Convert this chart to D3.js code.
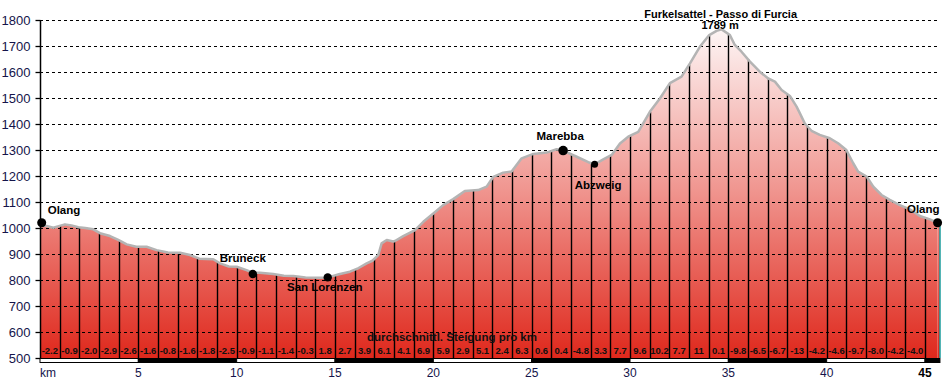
<!DOCTYPE html>
<html>
<head>
<meta charset="utf-8">
<script src="https://cdn.jsdelivr.net/npm/d3@7"></script>
<style>
  html, body { margin: 0; padding: 0; background: #fff; }
  svg { display: block; }
</style>
</head>
<body>
<svg id="chart" width="944" height="381"></svg>
<script>
// ---------- DATA ----------
const distKm = [0.00,0.34,0.68,1.00,1.27,1.60,1.95,2.30,2.71,3.05,3.56,3.98,4.41,4.90,5.42,5.93,6.50,7.12,7.63,8.10,8.81,9.15,9.60,10.00,10.50,10.82,11.18,11.86,12.40,12.88,13.50,14.23,14.63,14.74,15.20,15.76,16.20,16.61,16.90,17.20,17.37,17.63,17.96,18.05,18.47,19.07,19.49,20.00,20.50,21.01,21.60,22.28,22.71,23.05,23.55,23.98,24.49,25.08,25.76,26.27,26.60,27.29,27.88,28.20,28.64,29.07,29.49,29.91,30.42,31.01,31.52,32.03,32.62,33.05,33.55,34.03,34.40,34.66,35.08,35.33,35.67,36.10,36.60,37.03,37.37,37.71,38.13,38.47,38.64,38.89,39.23,39.65,40.16,40.58,41.00,41.35,41.60,42.03,42.37,42.79,43.21,43.72,44.23,44.74,45.25,45.64];
const elevation = [1008,1008,1001,1008,1014,1010,1003,1000,995,980,969,954,937,928,928,915,906,905,896,882,880,864,852,851,838,828,828,823,816,815,810,809,810,812,822,832,846,864,874,896,941,954,948,950,969,992,1024,1056,1088,1111,1142,1146,1159,1197,1213,1217,1268,1285,1290,1303,1298,1274,1253,1245,1264,1281,1325,1351,1370,1447,1498,1557,1582,1633,1697,1742,1758,1764,1742,1704,1678,1640,1601,1575,1563,1531,1508,1467,1441,1402,1374,1358,1345,1326,1300,1249,1217,1198,1159,1127,1108,1088,1072,1046,1033,1020];
const gradientLabels = ["-2.2","-0.9","-2.0","-2.9","-2.6","-1.6","-0.8","-1.6","-1.8","-2.5","-0.9","-1.1","-1.4","-0.3","1.8","2.7","3.9","6.1","4.1","6.9","5.9","2.9","5.1","2.4","6.3","0.6","0.4","-4.8","3.3","7.7","9.6","10.2","7.7","11","0.1","-9.8","-6.5","-6.7","-13","-4.2","-4.6","-9.7","-8.0","-4.2","-4.0"];
const yTicks = [500,600,700,800,900,1000,1100,1200,1300,1400,1500,1600,1700,1800];
const xTickLabels = [5,10,15,20,25,30,35,40,45];
const placeNames = ["Olang","Bruneck","San Lorenzen","Marebba","Abzweig","Olang"];
const placeKm = [0,10.82,14.63,26.6,28.2,45.64];
const placeElev = [1020,823,810,1298,1245,1020];
const peakName = "Furkelsattel - Passo di Furcia";
const peakLabel = "1789 m";
const peakKm = 34.66;
const peakElev = 1764;
const totalKm = 45.76;

// ---------- LAYOUT ----------
const svg = d3.select("#chart");
const mL = 40, mR = 940, mT = 20, mB = 358;
const x = d3.scaleLinear().domain([0, 45]).range([mL, 925]);
const y = d3.scaleLinear().domain([500, 1800]).range([mB, mT]);
const profile = distKm.map((d, i) => [d, elevation[i]]);
const elevAt = d3.scaleLinear().domain(distKm).range(elevation);
const FONT = "'Liberation Sans', Arial, sans-serif";

// gradient fill
const defs = svg.append("defs");
const lg = defs.append("linearGradient").attr("id", "fillGrad")
  .attr("gradientUnits", "userSpaceOnUse")
  .attr("x1", 0).attr("y1", mT).attr("x2", 0).attr("y2", mB);
lg.append("stop").attr("offset", "0%").attr("stop-color", "#fefbfb");
lg.append("stop").attr("offset", "50%").attr("stop-color", "#f09690");
lg.append("stop").attr("offset", "100%").attr("stop-color", "#df281c");

// area
const area = d3.area().x(d => x(d[0])).y0(mB).y1(d => y(d[1]));
svg.append("path").datum(profile).attr("d", area).attr("fill", "url(#fillGrad)");
const lastX = x(distKm[distKm.length - 1]);
const lastY = y(elevation[elevation.length - 1]);
svg.append("rect").attr("x", lastX).attr("y", lastY)
  .attr("width", mR - lastX).attr("height", mB - lastY)
  .attr("fill", "url(#fillGrad)");

// gridlines
svg.append("g").selectAll("line").data(yTicks.filter(t => t > 500)).join("line")
  .attr("x1", mL).attr("x2", mR)
  .attr("y1", d => Math.round(y(d)) + 0.5).attr("y2", d => Math.round(y(d)) + 0.5)
  .attr("stroke", "#000").attr("stroke-width", 1).attr("stroke-dasharray", "3,3");

// km vertical lines
const kmMarks = d3.range(1, 46);
svg.append("g").selectAll("line").data(kmMarks).join("line")
  .attr("x1", d => Math.round(x(d)) + 0.5).attr("x2", d => Math.round(x(d)) + 0.5)
  .attr("y1", mB).attr("y2", d => y(elevAt(d)))
  .attr("stroke", "#000").attr("stroke-width", 1.4);

// teal right edge line
svg.append("line").attr("x1", mR).attr("x2", mR)
  .attr("y1", lastY + 3).attr("y2", mB)
  .attr("stroke", "#1a9c9c").attr("stroke-width", 1.5);

// profile outline
const line = d3.line().x(d => x(d[0])).y(d => y(d[1]));
svg.append("path").datum(profile).attr("d", line)
  .attr("fill", "none").attr("stroke", "#b4b4b4").attr("stroke-width", 2.5)
  .attr("stroke-linejoin", "round");

// y axis
const yAxis = d3.axisLeft(y).tickValues(yTicks).tickFormat(d3.format("d")).tickSize(5).tickPadding(4);
const yg = svg.append("g").attr("transform", `translate(${mL + 0.5},0)`).call(yAxis);
yg.select(".domain").attr("stroke", "#000").attr("stroke-width", 1.5).attr("d", `M0,${mT}V${mB}`);
yg.selectAll(".tick line").attr("stroke", "#000").attr("stroke-width", 1.3);
yg.selectAll(".tick text").attr("font-family", FONT)
  .attr("font-size", 13).attr("fill", "#14144a").attr("dx", -1);

// gradient labels
svg.append("g").selectAll("text").data(gradientLabels).join("text")
  .attr("x", (d, i) => x(i + 0.5)).attr("y", 354)
  .attr("text-anchor", "middle")
  .attr("font-family", FONT)
  .attr("font-weight", "bold").attr("font-size", 9.5).attr("fill", "#111")
  .text(d => d);

svg.append("text").attr("x", x(20.95)).attr("y", 341).attr("text-anchor", "middle")
  .attr("font-family", FONT)
  .attr("font-weight", "bold").attr("font-size", 11.5).attr("fill", "#111")
  .text("durchschnittl. Steigung pro km");

// bottom km bar
const segs = d3.range(0, 10).map(i => [i * 5, Math.min((i + 1) * 5, totalKm)]);
svg.append("g").selectAll("rect").data(segs).join("rect")
  .attr("x", d => x(d[0])).attr("width", d => x(d[1]) - x(d[0]))
  .attr("y", 358.5).attr("height", 4)
  .attr("fill", (d, i) => i % 2 ? "#000" : "#fff")
  .attr("stroke", "#000").attr("stroke-width", 1);

// x axis labels
svg.append("text").attr("x", x(0)).attr("y", 377)
  .attr("font-family", FONT).attr("font-size", 12).attr("fill", "#14144a")
  .text("km");
svg.append("g").selectAll("text").data(xTickLabels).join("text")
  .attr("x", d => x(d)).attr("y", 377).attr("text-anchor", "middle")
  .attr("font-family", FONT).attr("font-size", 12)
  .attr("font-weight", d => d === 45 ? "bold" : "normal")
  .attr("fill", d => d === 45 ? "#000" : "#14144a")
  .text(d => d);

// places
const labelOffsets = [
  {dx: 6, dy: -9, anchor: "start", r: 4.5},
  {dx: -10, dy: -12, anchor: "middle", r: 4.2},
  {dx: -3, dy: 14, anchor: "middle", r: 4.2},
  {dx: -3, dy: -11, anchor: "middle", r: 4.8},
  {dx: 3.5, dy: 25, anchor: "middle", r: 3.5},
  {dx: 2, dy: -9.5, anchor: "end", r: 4.5}
];
const places = placeNames.map((n, i) => ({name: n, km: placeKm[i], elev: placeElev[i], o: labelOffsets[i]}));
const pg = svg.append("g");
places.forEach((p, i) => {
  const px = i === 0 ? x(p.km) + 1.7 : x(p.km);
  const py = y(p.elev);
  pg.append("circle").attr("cx", px).attr("cy", py).attr("r", p.o.r).attr("fill", "#000");
  pg.append("text").attr("x", px + p.o.dx).attr("y", py + p.o.dy)
    .attr("text-anchor", p.o.anchor)
    .attr("font-family", FONT)
    .attr("font-weight", "bold").attr("font-size", 11.5).attr("fill", "#000")
    .text(p.name);
});

// peak label
svg.append("text").attr("x", x(peakKm) - 1).attr("y", y(peakElev) - 11.5).attr("text-anchor", "middle")
  .attr("font-family", FONT)
  .attr("font-weight", "bold").attr("font-size", 11).attr("fill", "#000")
  .text(peakName);
svg.append("text").attr("x", x(peakKm) - 1.5).attr("y", y(peakElev) - 0.5).attr("text-anchor", "middle")
  .attr("font-family", FONT)
  .attr("font-weight", "bold").attr("font-size", 11).attr("fill", "#000")
  .text(peakLabel);
</script>
</body>
</html>
